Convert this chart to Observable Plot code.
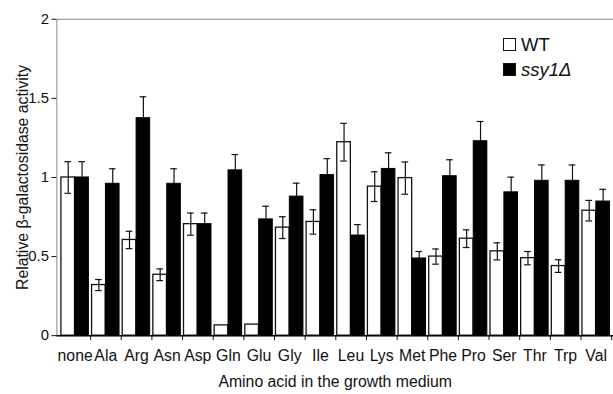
<!DOCTYPE html>
<html><head><meta charset="utf-8">
<script src="https://cdn.jsdelivr.net/npm/d3@7"></script>
<script src="https://cdn.jsdelivr.net/npm/@observablehq/plot@0.6"></script>
<style>
body{margin:0;overflow:hidden;background:#fff;font-family:"Liberation Sans",Arial,sans-serif;}
#wrap{position:relative;width:613px;height:394px;overflow:hidden;}
.lg{position:absolute;left:503px;font-size:18.5px;color:#111;line-height:18px;white-space:nowrap;}
.sw{display:inline-block;width:11px;height:11px;border:1px solid #111;vertical-align:0px;margin-right:5px;}
</style></head><body><div id="wrap"></div>
<script>
const aminoAcids = ["none","Ala","Arg","Asn","Asp","Gln","Glu","Gly","Ile","Leu","Lys","Met","Phe","Pro","Ser","Thr","Trp","Val"];
const wtValues  = [1.00,0.32,0.605,0.385,0.705,0.065,0.07,0.683,0.719,1.223,0.942,0.996,0.50,0.613,0.533,0.49,0.44,0.79];
const wtErrors  = [0.10,0.035,0.055,0.037,0.07,0,0,0.069,0.077,0.119,0.094,0.102,0.048,0.056,0.054,0.042,0.04,0.065];
const ssyValues = [1.00,0.96,1.375,0.96,0.705,1.045,0.735,0.879,1.015,0.633,1.054,0.488,1.008,1.229,0.906,0.979,0.979,0.848];
const ssyErrors = [0.10,0.095,0.135,0.095,0.07,0.10,0.083,0.085,0.104,0.069,0.102,0.044,0.104,0.125,0.096,0.10,0.10,0.077];
const yTicks = [0,0.5,1,1.5,2];
const seriesNames = ["WT","ssy1Δ"];

const wt = aminoAcids.map((aa,i)=>({aa, value: wtValues[i], err: wtErrors[i]}));
const ssy = aminoAcids.map((aa,i)=>({aa, value: ssyValues[i], err: ssyErrors[i]}));

const W = 620, ML = 57, MR = 0;
const band = (W-ML-MR)/aminoAcids.length;
const half = band/2;
const gap = 1.6;
const wtC = (gap + half)/2;
const ssC = (half + band - gap)/2;
const capW = 7;

const errW = wt.filter(d=>d.err>0);
const errS = ssy.filter(d=>d.err>0);

const chart = Plot.plot({
  width: W, height: 394,
  marginLeft: ML, marginRight: MR, marginTop: 19, marginBottom: 55,
  style: {fontFamily: "'Liberation Sans', Arial, sans-serif", fontSize: "15px", color: "#111", background: "white", overflow: "visible"},
  x: {domain: aminoAcids, padding: 0, axis: null},
  y: {domain: [0,2], axis: null},
  marks: [
    Plot.frame({stroke: "#888"}),
    Plot.barY(wt, {x: "aa", y: "value", fill: "white", stroke: "#111", strokeWidth: 1.3, insetLeft: gap, insetRight: half}),
    Plot.barY(ssy, {x: "aa", y: "value", fill: "#000", stroke: "#000", strokeWidth: 1, insetLeft: half, insetRight: gap}),
    Plot.ruleX(errW, {x: "aa", y1: d=>d.value-d.err, y2: d=>d.value+d.err, dx: wtC-half, stroke: "#111", strokeWidth: 1.2}),
    Plot.tickY(errW, {x: "aa", y: d=>d.value+d.err, insetLeft: wtC-capW/2, insetRight: band-wtC-capW/2, stroke: "#111", strokeWidth: 1.2}),
    Plot.tickY(errW, {x: "aa", y: d=>d.value-d.err, insetLeft: wtC-capW/2, insetRight: band-wtC-capW/2, stroke: "#111", strokeWidth: 1.2}),
    Plot.ruleX(errS, {x: "aa", y1: d=>d.value, y2: d=>d.value+d.err, dx: ssC-half, stroke: "#111", strokeWidth: 1.2}),
    Plot.tickY(errS, {x: "aa", y: d=>d.value+d.err, insetLeft: ssC-capW/2, insetRight: band-ssC-capW/2, stroke: "#111", strokeWidth: 1.2}),
    Plot.ruleY([0], {stroke: "#000", strokeWidth: 1.5}),
    Plot.axisX({tickSize: 5, tickFormat: () => "", dx: half, label: null, stroke: "#111"}),
    Plot.axisX({tickSize: 0, tickPadding: 14, fontSize: 16, label: null}),
    Plot.axisX({tickSize: 0, tickFormat: () => "", fontSize: 16, label: "Amino acid in the growth medium", labelAnchor: "center", labelArrow: "none", labelOffset: 52}),
    Plot.axisY({ticks: yTicks, tickSize: 5, tickPadding: 3, fontSize: 15, tickFormat: d => String(d), label: null}),
    Plot.axisY({ticks: [], tickSize: 0, fontSize: 16, label: "Relative β-galactosidase activity", labelAnchor: "center", labelArrow: "none", labelOffset: 41})
  ]
});
const wrap = document.getElementById("wrap");
wrap.appendChild(chart);
const lg1 = document.createElement("div");
lg1.className = "lg"; lg1.style.top = "36px";
lg1.innerHTML = '<span class="sw" style="background:#fff"></span>' + seriesNames[0];
const lg2 = document.createElement("div");
lg2.className = "lg"; lg2.style.top = "61px";
lg2.innerHTML = '<span class="sw" style="background:#000"></span><i>' + seriesNames[1] + '</i>';
wrap.appendChild(lg1); wrap.appendChild(lg2);
</script></body></html>
